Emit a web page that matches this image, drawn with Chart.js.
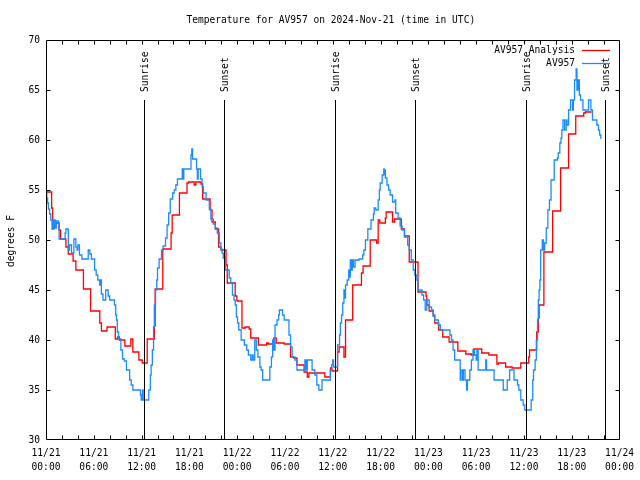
<!DOCTYPE html>
<html>
<head>
<meta charset="utf-8">
<script src="https://cdn.jsdelivr.net/npm/chart.js@4/dist/chart.umd.min.js"></script>
<style>
html,body{margin:0;padding:0;background:#fff;}
#c{display:block;}
</style>
</head>
<body>
<canvas id="c" width="640" height="480"></canvas>
<script>
// ---- data (x in hours since 2024-11-21 00:00 UTC) ----
const chartTitle = 'Temperature for AV957 on 2024-Nov-21 (time in UTC)';
const yAxisTitle = 'degrees F';
const seriesNames = ['AV957 Analysis', 'AV957'];
const dayLabels = ['11/21', '11/22', '11/23', '11/24'];
const hourLabels = ['00:00', '06:00', '12:00', '18:00'];
const sunLabels = ['Sunrise', 'Sunset', 'Sunrise', 'Sunset', 'Sunrise', 'Sunset'];
const sunHours = [12.35, 22.3, 36.3, 46.3, 60.3, 70.15];

const hoursAnalysis = [0.0,0.71,0.83,1.63,1.83,2.5,2.8,3.4,3.75,4.7,5.6,6.75,6.96,7.66,8.7,9.0,9.2,9.9,10.65,10.9,11.66,12.08,12.7,13.6,13.7,14.66,15.7,15.84,16.75,17.7,17.9,18.6,18.8,19.46,19.66,20.6,20.84,21.25,21.66,21.96,22.6,22.75,23.75,23.96,24.6,25.0,25.5,25.7,26.66,27.7,27.9,28.6,28.9,29.9,30.7,31.1,31.5,32.4,32.8,33.0,35.0,35.7,35.9,36.6,36.8,37.4,37.6,38.5,39.6,39.8,40.7,41.5,41.7,41.9,42.6,42.7,43.5,43.75,44.6,45.0,45.6,46.7,47.7,47.8,48.1,48.6,48.8,49.3,49.8,50.6,51.7,52.7,53.4,53.7,54.7,55.6,56.6,56.8,57.7,58.5,59.6,60.6,60.7,61.6,61.8,61.9,62.5,63.6,64.6,65.6,66.5,67.5,67.7,68.5];
const tempAnalysis = [54.8,53.2,51.7,51.0,50.1,49.3,48.6,47.9,47.0,45.1,42.9,41.7,40.9,41.3,40.1,40.3,40.0,39.4,40.1,38.8,38.0,37.7,40.1,41.4,45.1,49.1,50.7,52.5,54.7,55.7,55.8,55.5,55.8,55.6,54.1,53.0,51.8,51.1,49.3,49.0,47.5,45.7,44.4,43.9,41.2,41.3,41.1,40.2,39.5,39.7,39.6,40.2,39.7,39.6,38.3,38.2,37.5,36.8,36.3,36.7,36.3,37.2,36.9,38.8,39.3,38.3,42.0,45.5,46.7,47.4,50.0,49.7,52.0,51.7,52.2,52.8,51.8,52.1,51.1,50.4,47.8,44.8,44.4,43.5,42.9,42.4,41.7,41.0,40.3,39.8,38.9,38.6,38.5,39.1,38.7,38.5,37.6,37.7,37.3,37.2,37.7,38.3,39.0,40.8,42.2,43.5,48.8,52.9,57.2,60.6,62.4,62.7,62.8,62.8];

const hoursStation = [0.0,0.1,0.2,0.3,0.45,0.6,0.75,0.85,0.95,1.05,1.15,1.3,1.55,1.65,2.4,2.5,2.8,2.95,3.2,3.5,3.75,3.9,4.0,4.2,4.5,5.3,5.5,5.7,6.1,6.3,6.5,6.75,6.85,6.95,7.15,7.5,7.8,8.0,8.6,8.75,8.85,8.95,9.1,9.4,9.6,9.85,10.1,10.5,10.7,10.9,11.85,11.95,12.1,12.2,12.9,13.1,13.2,13.35,13.5,13.6,13.75,13.9,14.0,14.2,14.5,14.7,15.0,15.2,15.4,15.6,15.9,16.1,16.3,16.5,17.1,17.2,17.3,18.2,18.3,18.4,18.9,19.0,19.1,19.4,19.6,19.75,20.1,20.5,20.7,21.0,21.25,21.5,21.75,21.95,22.1,22.25,22.5,23.0,23.2,23.4,23.6,23.75,23.9,24.05,24.2,24.5,24.9,25.2,25.4,25.7,25.9,26.0,26.2,26.4,26.6,26.85,27.0,27.2,28.1,28.3,28.45,28.6,28.75,29.0,29.2,29.3,29.7,29.9,30.5,30.7,30.9,31.25,31.5,32.5,32.65,32.8,33.4,33.75,34.0,34.25,34.65,35.7,35.85,36.0,36.1,36.6,36.85,36.95,37.1,37.25,37.4,37.5,37.6,37.8,38.0,38.1,38.2,38.35,38.45,38.6,38.8,39.3,39.75,39.9,40.1,40.4,40.8,41.1,41.2,41.4,41.7,41.85,41.95,42.2,42.4,42.45,42.5,42.6,42.8,43.0,43.2,43.5,43.8,43.9,44.2,44.45,44.7,45.0,45.4,45.6,45.85,46.1,46.3,46.55,46.7,47.2,47.4,47.6,47.8,48.1,48.4,48.6,48.8,49.25,49.5,50.7,50.9,51.1,51.3,52.0,52.1,52.3,52.4,52.6,52.8,52.9,53.2,53.4,53.6,53.8,54.0,54.1,54.25,55.2,55.3,56.25,57.4,57.9,58.2,58.75,59.2,59.35,59.6,59.9,60.1,60.9,61.1,61.2,61.4,61.55,61.7,61.8,61.9,62.0,62.1,62.3,62.45,62.6,62.8,63.0,63.2,63.4,63.8,64.2,64.3,64.5,64.65,64.75,64.9,65.1,65.3,65.4,65.6,65.85,66.1,66.2,66.35,66.55,66.65,66.8,66.95,67.1,67.4,68.1,68.4,68.6,69.15,69.35,69.5,69.65];
const tempStation = [54.7,54.2,53.7,53.1,52.6,52.0,51.1,52.0,51.1,52.0,51.2,51.9,51.7,50.1,50.7,51.1,49.0,49.5,48.7,50.1,49.3,49.0,49.5,48.5,48.1,49.0,48.6,48.1,47.0,46.5,46.0,45.5,46.0,44.6,44.0,45.0,44.4,44.0,43.5,42.5,42.0,40.8,40.1,39.0,38.1,37.9,37.0,36.0,35.5,35.0,34.5,34.0,35.0,34.0,35.0,36.5,37.5,39.0,41.3,43.5,45.0,46.0,47.2,48.1,49.0,49.4,50.2,51.5,52.7,54.1,54.7,55.0,55.5,56.1,57.1,56.1,57.1,58.5,59.1,58.1,57.1,56.1,57.1,56.1,55.3,54.7,54.0,53.1,52.1,51.6,51.2,50.7,49.7,49.1,48.7,48.2,47.0,46.2,45.7,44.5,44.0,43.5,42.3,41.7,41.0,40.0,39.5,39.0,38.5,38.0,38.5,38.0,40.0,39.0,38.3,37.3,37.0,36.0,37.3,38.3,40.0,39.0,41.5,42.0,42.5,43.0,42.5,42.0,40.5,39.3,38.3,38.0,37.0,38.0,37.0,38.0,37.0,36.5,35.5,35.0,36.0,37.0,37.5,38.0,37.3,39.5,40.5,41.7,42.5,43.7,45.0,44.2,45.5,46.0,47.0,46.3,48.0,47.0,48.0,47.3,48.0,48.1,48.5,49.0,50.0,51.1,52.0,52.6,53.2,53.0,54.0,55.0,55.7,56.5,57.1,56.6,57.0,56.2,55.5,55.0,54.5,53.8,54.0,52.7,52.2,51.4,51.0,50.3,49.5,49.0,48.0,47.0,46.5,46.0,45.0,44.5,44.0,43.0,44.0,43.3,43.0,42.5,42.0,41.5,41.0,40.5,40.0,39.0,38.0,36.0,37.0,36.0,37.0,36.0,35.0,36.0,37.0,38.0,39.0,38.5,38.0,39.0,37.0,38.0,37.0,36.0,35.0,36.0,37.0,36.0,35.5,35.0,34.0,33.5,33.0,34.0,36.0,37.0,38.0,40.0,42.0,44.0,45.0,46.0,49.0,50.0,49.0,49.7,51.2,53.0,54.0,56.0,58.0,58.2,58.7,59.7,60.2,61.0,62.0,61.0,62.0,61.5,63.0,64.0,63.0,64.0,66.0,67.1,65.0,66.0,64.5,64.0,63.0,64.0,63.0,62.0,61.5,61.0,60.5,60.1];

const seriesColors = ['#ff0000', '#1a8cff'];

// ---- chart ----
const FONT = '"DejaVu Sans Mono", "Liberation Mono", monospace';
const FSIZE = 9.6;

const framePlugin = {
  id: 'gnuframe',
  afterDraw(chart) {
    const ctx = chart.ctx;
    const a = chart.chartArea;
    const xs = chart.scales.x, ys = chart.scales.y;
    const L = Math.round(a.left) + 0.5, R = Math.round(a.right) - 0.5;
    const T = Math.round(a.top) + 0.5, B = Math.round(a.bottom) - 0.5;
    ctx.save();
    ctx.strokeStyle = '#000';
    ctx.lineWidth = 1;
    // sunrise / sunset lines
    ctx.font = FSIZE + 'px ' + FONT;
    ctx.fillStyle = '#000';
    sunHours.forEach((h, i) => {
      const x = Math.round(xs.getPixelForValue(h)) + 0.5;
      ctx.beginPath();
      ctx.moveTo(x, a.top + 60);
      ctx.lineTo(x, a.bottom);
      ctx.stroke();
      ctx.save();
      ctx.translate(x + 0.5, a.top + 52);
      ctx.rotate(-Math.PI / 2);
      ctx.textAlign = 'left';
      ctx.textBaseline = 'middle';
      ctx.fillText(sunLabels[i], 0, 0);
      ctx.restore();
    });
    // frame
    ctx.beginPath();
    ctx.rect(L, T, R - L, B - T);
    ctx.stroke();
    // x ticks every 2 hours, top and bottom
    ctx.beginPath();
    for (let h = 2; h < 72; h += 2) {
      const x = Math.round(xs.getPixelForValue(h)) + 0.5;
      ctx.moveTo(x, B); ctx.lineTo(x, B - 4);
      ctx.moveTo(x, T); ctx.lineTo(x, T + 4);
    }
    // y ticks every 5 degrees, left and right
    for (let v = 35; v < 70; v += 5) {
      const y = Math.round(ys.getPixelForValue(v)) + 0.5;
      ctx.moveTo(L, y); ctx.lineTo(L + 4, y);
      ctx.moveTo(R, y); ctx.lineTo(R - 4, y);
    }
    ctx.stroke();
    // title
    ctx.textAlign = 'center';
    ctx.textBaseline = 'middle';
    ctx.fillText(chartTitle, (a.left + a.right) / 2 - 2, 20);
    // y axis title
    ctx.save();
    ctx.translate(11, (a.top + a.bottom) / 2 + 1);
    ctx.rotate(-Math.PI / 2);
    ctx.fillText(yAxisTitle, 0, 0);
    ctx.restore();
    // legend
    const rows = [50, 63];
    chart.data.datasets.forEach((ds) => {
      const idx = seriesNames.indexOf(ds.label);
      const y = rows[idx];
      ctx.textAlign = 'right';
      ctx.fillStyle = '#000';
      ctx.fillText(ds.label, 575, y);
      ctx.strokeStyle = ds.borderColor;
      ctx.lineWidth = 1.3;
      ctx.beginPath();
      ctx.moveTo(582, y + 0.5);
      ctx.lineTo(610, y + 0.5);
      ctx.stroke();
    });
    ctx.restore();
  }
};

Chart.defaults.color = '#000';
Chart.defaults.font.family = FONT;
Chart.defaults.font.size = FSIZE;

new Chart(document.getElementById('c'), {
  type: 'line',
  data: {
    datasets: [
      {
        label: seriesNames[1],
        data: hoursStation.map((h, i) => ({ x: h, y: tempStation[i] })),
        borderColor: seriesColors[1],
        borderWidth: 1.3,
        pointRadius: 0,
        stepped: true,
        fill: false,
        order: 0
      },
      {
        label: seriesNames[0],
        data: hoursAnalysis.map((h, i) => ({ x: h, y: tempAnalysis[i] })),
        borderColor: seriesColors[0],
        borderWidth: 1.3,
        pointRadius: 0,
        stepped: true,
        fill: false,
        order: 1
      }
    ]
  },
  options: {
    responsive: false,
    animation: false,
    devicePixelRatio: 1,
    layout: { padding: { top: 40, right: 18, bottom: 0, left: 0 } },
    plugins: { legend: { display: false }, tooltip: { enabled: false }, title: { display: false } },
    scales: {
      x: {
        type: 'linear',
        min: 0, max: 72,
        grid: { display: false, drawTicks: false },
        border: { display: false },
        afterFit(s) { s.height = 40; },
        ticks: {
          stepSize: 6,
          autoSkip: false,
          maxRotation: 0,
          padding: 6,
          font: { size: FSIZE, lineHeight: 1.46 },
          callback: (v) => [dayLabels[Math.floor(v / 24)], hourLabels[Math.round((v % 24) / 6)]]
        }
      },
      y: {
        min: 30, max: 70,
        grid: { display: false, drawTicks: false },
        border: { display: false },
        afterFit(s) { s.width = 46; },
        ticks: { stepSize: 5, padding: 6, font: { size: FSIZE } }
      }
    }
  },
  plugins: [framePlugin]
});
</script>
</body>
</html>
